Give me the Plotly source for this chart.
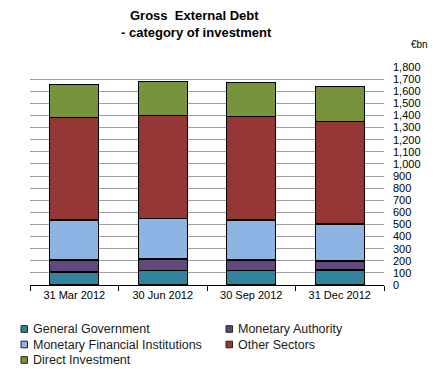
import plotly.graph_objects as go

categories = ["31 Mar 2012", "30 Jun 2012", "30 Sep 2012", "31 Dec 2012"]
general_government = [107, 118, 118, 124]
monetary_authority = [99, 96, 88, 74]
mfi = [330, 338, 330, 305]
other_sectors = [849, 849, 857, 849]
direct_investment = [272, 280, 280, 288]

series_names = ["General Government", "Monetary Authority",
                "Monetary Financial Institutions", "Other Sectors", "Direct Investment"]
series_values = [general_government, monetary_authority, mfi, other_sectors, direct_investment]
series_colors = ["#31849B", "#604A7B", "#8EB4E3", "#953735", "#77933C"]

W, H = 447, 369
ML, MR, MT, MB = 30, 63, 67, 84
PW, PH = W - ML - MR, H - MT - MB


def px_x(x):
    return (x - ML) / PW


def px_y(y):
    return (H - MB - y) / PH


fig = go.Figure()
for name, vals, col in zip(series_names, series_values, series_colors):
    fig.add_trace(go.Bar(x=categories, y=vals, name=name, showlegend=False,
                         marker=dict(color=col, line=dict(color="black", width=1.2))))

shapes = []
annotations = []
# legend built from the series list
col_x = [21, 226]
row_y = [329, 344.5, 360]
for i, (name, col) in enumerate(zip(series_names, series_colors)):
    cx = col_x[i % 2]
    cy = row_y[i // 2]
    shapes.append(dict(type="rect", xref="paper", yref="paper",
                       x0=px_x(cx), x1=px_x(cx + 6.5), y0=px_y(cy + 3.3), y1=px_y(cy - 3.3),
                       fillcolor=col, line=dict(color="#222222", width=1)))
    annotations.append(dict(text=name, xref="paper", yref="paper",
                            x=px_x(cx + 9.5), y=px_y(cy), xanchor="left", yanchor="middle",
                            showarrow=False, font=dict(size=12.5, color="#1a1a1a")))

# title
annotations.append(dict(text="<b>Gross  External Debt</b>", xref="paper", yref="paper",
                        x=px_x(194), y=px_y(16), xanchor="center", yanchor="middle",
                        showarrow=False, font=dict(size=13)))
annotations.append(dict(text="<b>- category of investment</b>", xref="paper", yref="paper",
                        x=px_x(196), y=px_y(32.5), xanchor="center", yanchor="middle",
                        showarrow=False, font=dict(size=13)))
annotations.append(dict(text="€bn", xref="paper", yref="paper",
                        x=px_x(409), y=px_y(45), xanchor="left", yanchor="middle",
                        showarrow=False, font=dict(size=10)))

fig.update_layout(
    barmode="stack",
    bargap=0.445,
    width=W, height=H,
    margin=dict(l=ML, r=MR, t=MT, b=MB, autoexpand=False),
    paper_bgcolor="white", plot_bgcolor="white",
    font=dict(family="Liberation Sans, Arial, sans-serif", color="black", size=11),
    showlegend=False,
    xaxis=dict(showline=True, linecolor="black", linewidth=1,
               ticks="outside", tickson="boundaries", ticklen=5, tickcolor="black",
               tickfont=dict(size=11)),
    yaxis=dict(side="right", range=[0, 1800], dtick=100, tickformat=",d",
               showgrid=True, gridcolor="#A0A0A0", gridwidth=1,
               ticks="", ticklabelstandoff=8,
               showline=False, zeroline=False, tickfont=dict(size=11)),
    shapes=shapes,
    annotations=annotations,
)

fig.write_html("out.html", config={"displayModeBar": False},
               post_script="document.body.style.margin='0';document.body.style.overflow='hidden';")
